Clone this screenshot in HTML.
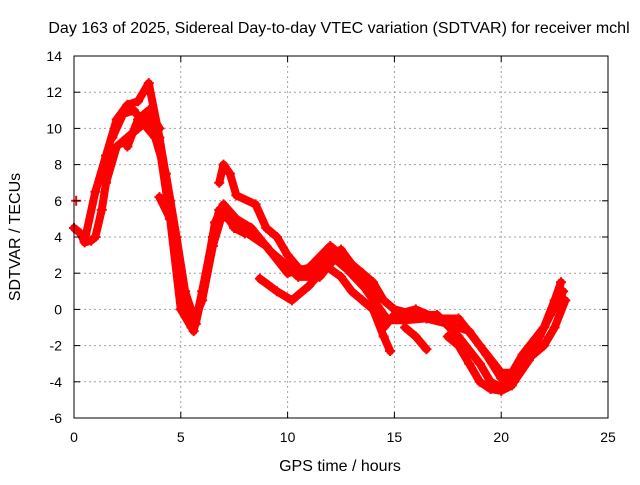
<!DOCTYPE html>
<html><head><meta charset="utf-8"><style>
body{margin:0;background:#fff}
svg text{font-family:"Liberation Sans",sans-serif;font-size:14px;fill:#000}
svg text.big{font-size:16px}
</style></head><body>
<svg id="chart" width="640" height="480" xmlns="http://www.w3.org/2000/svg">
<text class="big" x="339" y="33" text-anchor="middle">Day 163 of 2025, Sidereal Day-to-day VTEC variation (SDTVAR) for receiver mchl</text>
<g id="grid"></g>
<g id="series"></g>
<rect x="74" y="56" width="534" height="362" fill="none" stroke="#000" stroke-width="1"/>
<g id="ticks"></g>
<text class="big" x="340" y="471" text-anchor="middle">GPS time / hours</text>
<text class="big" transform="translate(20,237) rotate(-90)" text-anchor="middle">SDTVAR / TECUs</text>
</svg>
<script>
const xTicks=[0,5,10,15,20,25];
const yTicks=[-6,-4,-2,0,2,4,6,8,10,12,14];
const trackA=[[0.5,3.8],[1,6.5],[1.5,8.5],[2,10.5],[2.5,11.3],[3,11.5],[3.5,12.5],[4,9.5],[4.5,6],[5,1.5],[5.3,-0.3],[5.6,-1.2],[6,1],[6.5,4],[6.8,5.5],[7.2,5],[8,4.3],[9,3.5],[10,2],[11,2.3],[12,3.5],[12.5,3],[13,2.5],[14,1],[14.5,-1],[15,-0.3],[16,0],[17,-0.5],[18,-0.5],[19,-2],[20,-3.5],[20.5,-3.5],[21,-2.5],[22,-1],[22.5,0.5],[22.8,1.5]];
const trackB=[[1,4],[1.3,5.5],[1.5,7],[2,9],[2.5,9.5],[3,10],[3.5,10.5],[4,9],[4.5,5],[5,0],[5.5,-1],[6,0.5],[6.5,3.5],[7,5.5],[7.5,4.5],[8,4.2]];
const trackC=[[6.8,7],[7,8],[7.3,7.5],[7.6,6.3],[8.5,5.8],[9,4.5],[9.5,4],[10,3],[10.5,2.3],[11,2],[11.5,2.3],[12,3],[12.5,3.3],[13,2.5],[13.5,2],[14,1.5],[14.5,0.5],[15,0],[16,-0.3],[17,-0.3],[18,-1.5],[19,-3],[19.5,-4],[20,-4.3],[20.5,-3.8],[21,-3],[22,-2],[22.5,-1],[23,0.5]];
const trackD=[[8.7,1.7],[9.5,1],[10.2,0.5],[11,1.3],[11.8,2.4],[12.5,1.8],[13,1],[13.5,0.5],[14,0],[14.5,-1.5],[14.8,-2.3]];
const trackE=[[4,6.2],[4.5,5],[4.8,3],[5,0.5]];
const trackF=[[15.5,-1],[16,-1.5],[16.5,-2.2]];
const trackG=[[17.5,-1.5],[18,-2],[18.5,-3],[19,-4],[19.5,-4.4],[20,-4.5],[20.5,-4.2]];
const trackH=[[0,4.5],[0.3,4.2],[0.5,3.7],[0.8,3.8],[1,4]];
const trackI=[[2.5,9],[3,10.5],[3.5,11],[4,10]];
const trackJ=[[0.1,6]];
const trackK=[[1.8,9.5],[2.3,10.8],[2.8,11],[3.3,10.2],[3.8,9.5],[4.3,7.5],[4.8,4],[5.2,1],[5.7,-0.8],[6.2,2],[6.6,4.8],[7,5.8],[7.6,5],[8.3,4.5],[9.2,3.2],[9.8,2.6],[10.5,1.8],[11.5,1.8],[12.2,2.8],[12.8,2.2],[13.6,1.2],[14.2,0.2],[14.7,-0.6],[15.5,-0.6],[16.5,-0.5],[17.5,-0.8],[18.5,-1.2],[19.3,-2.5],[20,-3.8],[20.6,-4],[21.3,-2.8],[21.8,-1.5],[22.3,-0.3],[22.9,1]];
const tracks=[trackA,trackB,trackC,trackD,trackE,trackF,trackG,trackH,trackI,trackJ,trackK];
const NS='http://www.w3.org/2000/svg';
const X=t=>74+(t-0)*534/25;
const Y=v=>418-(v+6)*362/20;
const grid=document.getElementById('grid'),ticks=document.getElementById('ticks'),ser=document.getElementById('series');
function mk(tag,attrs,parent){const e=document.createElementNS(NS,tag);for(const k in attrs)e.setAttribute(k,attrs[k]);parent.appendChild(e);return e;}
xTicks.forEach(t=>{
 if(t>0&&t<25){const g=mk('line',{x1:X(t),x2:X(t),y1:56,y2:418,stroke:'#a0a0a0','stroke-dasharray':'2,3'},grid);
 
 }
 const tk=mk('text',{x:X(t),y:442,'text-anchor':'middle'},ticks);tk.textContent=t;
 
 
 mk('line',{x1:X(t),x2:X(t),y1:418,y2:412,stroke:'#000'},ticks);
 mk('line',{x1:X(t),x2:X(t),y1:56,y2:62,stroke:'#000'},ticks);
});
yTicks.forEach(v=>{
 if(v>-6&&v<14){const g=mk('line',{x1:74,x2:608,y1:Y(v),y2:Y(v),stroke:'#a0a0a0','stroke-dasharray':'2,3'},grid);
 
 }
 const tk=mk('text',{x:62,y:Y(v)+5,'text-anchor':'end'},ticks);tk.textContent=v;
 
 
 mk('line',{x1:74,x2:80,y1:Y(v),y2:Y(v),stroke:'#000'},ticks);
 mk('line',{x1:608,x2:602,y1:Y(v),y2:Y(v),stroke:'#000'},ticks);
});
tracks.forEach(tr=>{
 const p=mk('polyline',{points:tr.map(d=>X(d[0])+','+Y(d[1])).join(' '),fill:'none',stroke:'#ff0000','stroke-width':8,'stroke-linejoin':'round','stroke-linecap':'round'},ser);
 
 
 tr.forEach(d=>{
  const m=mk('path',{d:`M${X(d[0])-5},${Y(d[1])}h10M${X(d[0])},${Y(d[1])-5}v10`,stroke:'#ff0000','stroke-width':2},ser);
  
  
 });
});
</script>
</body></html>
